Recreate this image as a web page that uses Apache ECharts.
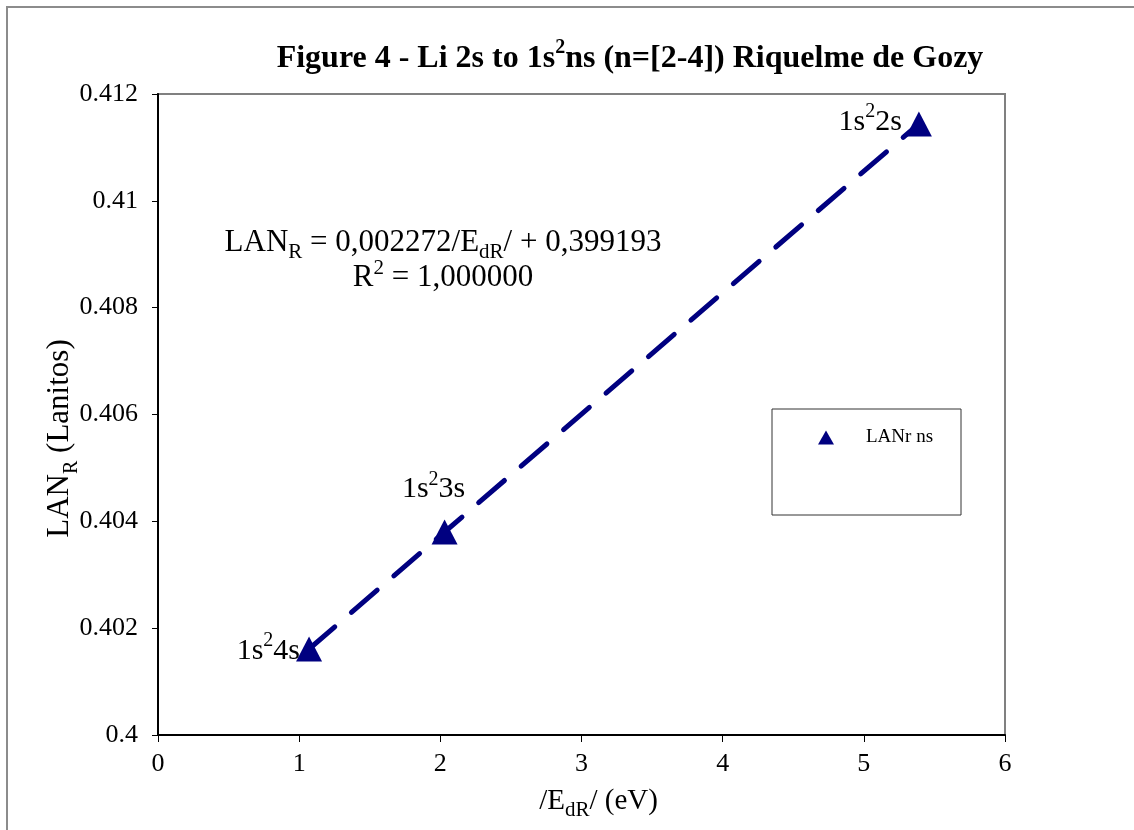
<!DOCTYPE html>
<html>
<head>
<meta charset="utf-8">
<script src="https://cdn.jsdelivr.net/npm/echarts@6/dist/echarts.min.js"></script>
<style>html,body{margin:0;padding:0;background:#fff}#c{width:1134px;height:830px}</style>
</head>
<body>
<div id="c"></div>
<script>
// ---- data ----
var seriesName = 'LANr ns';
var edr = [1.07, 2.03, 5.39];            // /E_dR/ (eV)
var lanR = [0.40161, 0.40380, 0.41144];  // LAN_R (Lanitos)
var pointLabels = ['1s{p|2}4s', '1s{p|2}3s', '1s{p|2}2s'];
var xTicks = [0, 1, 2, 3, 4, 5, 6];
var yTicks = [0.4, 0.402, 0.404, 0.406, 0.408, 0.41, 0.412];
var titleText = 'Figure 4 - Li 2s to 1s{p|2}ns (n=[2-4]) Riquelme de Gozy';
var eqLine1 = 'LAN{s|R} = 0,002272/E{s|dR}/ + 0,399193';
var eqLine2 = 'R{p|2} = 1,000000';
var xName = '/E{s|dR}/ (eV)';
var yName = 'LAN{s|R} (Lanitos)';

var FONT = "'Liberation Serif','Times New Roman',serif";
var NAVY = '#000080';

// rich styles for sub/superscripts (M main size, S small size, L line height)
function richSet(M, S, L, weight) {
  var h = 0.3375;
  var subOff = 0.22 * M + h * (M - S);
  var supOff = 0.27 * M - h * (M - S);
  var base = { fontSize: S, fontFamily: FONT, fontWeight: weight || 'normal', color: '#000' };
  return {
    s: Object.assign({ lineHeight: L - 2 * subOff, verticalAlign: 'bottom' }, base),
    p: Object.assign({ lineHeight: L - 2 * supOff, verticalAlign: 'top' }, base)
  };
}

var pts = edr.map(function (x, i) { return [x, lanR[i]]; });
var labelPos = [
  { position: 'left', distance: 0, offset: [4, 2] },
  { position: 'top', distance: 10, offset: [-11, 0] },
  { position: 'left', distance: 4, offset: [0, -2] }
];
var scatterData = pts.map(function (p, i) {
  return {
    value: p,
    label: Object.assign({ show: true, formatter: pointLabels[i] }, labelPos[i])
  };
});

var chart = echarts.init(document.getElementById('c'), null, { renderer: 'canvas' });
chart.setOption({
  backgroundColor: '#fff',
  animation: false,
  title: {
    text: titleText,
    left: 630, top: 38, textAlign: 'center', padding: 0,
    textStyle: { fontFamily: FONT, fontWeight: 'bold', fontSize: 32, lineHeight: 42, color: '#000',
      rich: richSet(32, 20, 42, 'bold') }
  },
  grid: {
    left: 158, top: 94, width: 847, height: 641,
    show: true, borderColor: '#808080', borderWidth: 2, backgroundColor: 'transparent'
  },
  legend: {
    data: [seriesName],
    left: 818, top: 428, padding: 0,
    icon: 'triangle', itemWidth: 16, itemHeight: 14,
    textStyle: { fontFamily: FONT, fontSize: 19, color: '#000', padding: [0, 0, 0, 27] }
  },
  xAxis: {
    type: 'value', min: 0, max: 6, interval: 1,
    name: xName, nameLocation: 'middle', nameGap: 46, nameMoveOverlap: false,
    nameTextStyle: { fontSize: 29, fontFamily: FONT, color: '#000', lineHeight: 40,
      rich: richSet(29, 21, 40), padding: [0, 0, 0, 34] },
    axisLine: { show: true, onZero: false, lineStyle: { color: '#000', width: 2 } },
    axisTick: { show: true, length: 7, lineStyle: { color: '#000', width: 1 } },
    axisLabel: { fontFamily: FONT, fontSize: 26, color: '#000', margin: 16,
      formatter: function (v) { return xTicks.indexOf(v) >= 0 ? String(v) : ''; } },
    splitLine: { show: false }
  },
  yAxis: {
    type: 'value', min: 0.4, max: 0.412, interval: 0.002,
    name: yName, nameLocation: 'middle', nameRotate: 90, nameGap: 76, nameMoveOverlap: false,
    nameTextStyle: { fontSize: 31, fontFamily: FONT, color: '#000', lineHeight: 44,
      rich: richSet(31, 20, 44), padding: [0, 48, 0, 0] },
    axisLine: { show: true, onZero: false, lineStyle: { color: '#000', width: 2 } },
    axisTick: { show: true, length: 6, lineStyle: { color: '#000', width: 1 } },
    axisLabel: { fontFamily: FONT, fontSize: 26, color: '#000', margin: 20,
      formatter: function (v) {
        var r = parseFloat(v.toFixed(3));
        return yTicks.indexOf(r) >= 0 ? String(r) : '';
      } },
    splitLine: { show: false }
  },
  series: [
    {
      name: 'trend', type: 'line', data: pts, showSymbol: false, symbol: 'none',
      silent: true, z: 2,
      lineStyle: { color: NAVY, width: 5, type: [34, 22], cap: 'round' }
    },
    {
      name: seriesName, type: 'scatter', data: scatterData, z: 3,
      symbol: 'triangle', symbolSize: [26, 25],
      itemStyle: { color: NAVY, opacity: 1 },
      label: { fontFamily: FONT, fontSize: 30, lineHeight: 40, color: '#000', opacity: 1,
        rich: richSet(30, 20, 40) },
      emphasis: { disabled: true }
    }
  ],
  graphic: [
    { type: 'rect', silent: true, z: -10,
      shape: { x: 7, y: 7, width: 1400, height: 1200 },
      style: { fill: 'none', stroke: '#8c8c8c', lineWidth: 2 } },
    { type: 'rect', silent: true, z: 0,
      shape: { x: 772, y: 409, width: 189, height: 106 },
      style: { fill: 'none', stroke: '#333', lineWidth: 1 } },
    { type: 'text', silent: true, x: 443, y: 223,
      style: { text: eqLine1, align: 'center', fontSize: 31, fontFamily: FONT, lineHeight: 40,
        fill: '#000', rich: richSet(31, 21, 40) } },
    { type: 'text', silent: true, x: 443, y: 258,
      style: { text: eqLine2, align: 'center', fontSize: 31, fontFamily: FONT, lineHeight: 40,
        fill: '#000', rich: richSet(31, 21, 40) } }
  ]
});
</script>
</body>
</html>
